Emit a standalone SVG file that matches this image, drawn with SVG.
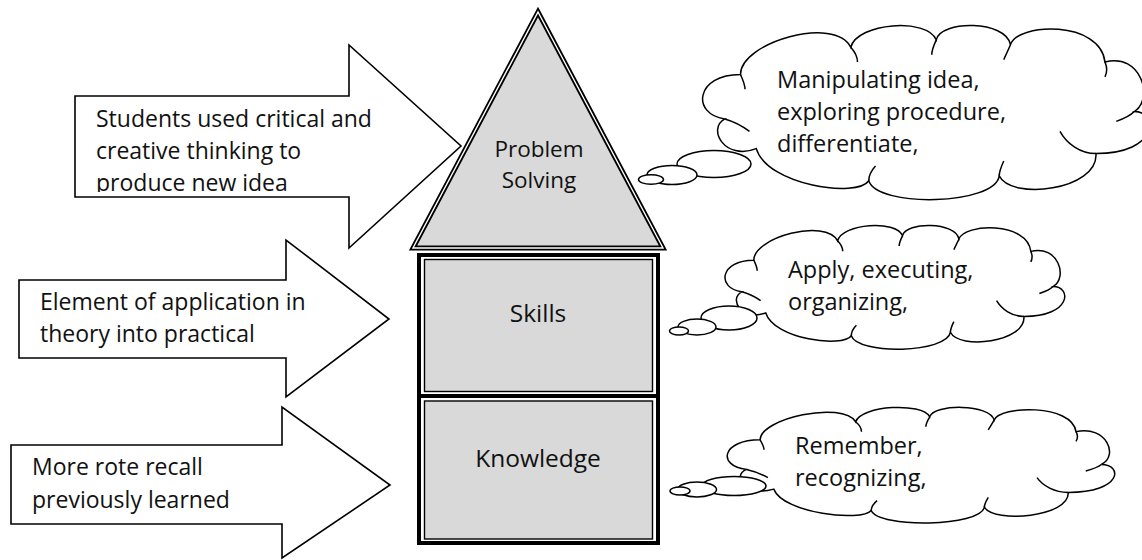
<svg xmlns="http://www.w3.org/2000/svg" xmlns:xlink="http://www.w3.org/1999/xlink" width="1142" height="560" viewBox="0 0 1142 560">
  <style>
    .arrow { fill: #ffffff; stroke: #000000; stroke-width: 1.6; stroke-linejoin: miter; }
    .txt { font-family: "Open Sans", "Liberation Sans", sans-serif; font-size: 23px; fill: #111111; }
    .ctxt { font-family: "Open Sans", "Liberation Sans", sans-serif; font-size: 23.5px; fill: #111111; }
    .big { font-family: "Open Sans", "Liberation Sans", sans-serif; font-size: 24.5px; fill: #111111; text-anchor: middle; }
    .mid { font-family: "Open Sans", "Liberation Sans", sans-serif; font-size: 22.5px; fill: #111111; text-anchor: middle; }
    .cloud { fill: #ffffff; stroke: #000000; stroke-width: 1.5; vector-effect: non-scaling-stroke; }
    .inner { fill: none; stroke: #000000; stroke-width: 1.5; vector-effect: non-scaling-stroke; }
    .bubble { fill: #ffffff; stroke: #000000; stroke-width: 1.5; }
    .outerBox { fill: #ffffff; stroke: #000000; stroke-width: 4; }
    .innerBox { fill: #d9d9d9; stroke: #000000; stroke-width: 1.4; }
  </style>
  <defs>
    <!-- thought cloud drawn in a 400 x 140 reference box -->
    <g id="cloud-shape">
      <path class="cloud" d="M36,40 C36,14 120,-8 134,18 C140,-2 202,-6 210,12 C214,-4 272,-4 276,16 C282,-2 356,-4 360,30 C392,22 404,60 386,70 C408,70 408,104 352,104 C354,134 276,142 266,122 C262,146 158,148 150,126 C140,140 60,130 50,100 C22,110 6,84 22,76 C-8,72 -4,40 36,40 Z"/>
      <path class="inner" d="M36,40 C38,44 40,48 40,52 M134,18 C138,22 140,26 140,30 M210,12 C208,16 206,20 206,24 M276,16 C274,20 272,24 270,28 M360,30 C362,34 362,38 360,42 M386,70 C382,74 376,76 370,78 M352,104 C338,104 326,96 320,86 M266,122 C266,118 268,114 270,110 M150,126 C150,122 152,118 156,114 M22,76 C30,78 38,82 44,86"/>
    </g>
    <!-- the last line of the top arrow's text is cut at the bottom of its text box -->
    <clipPath id="clip-arrow-top">
      <rect x="75" y="96" width="340" height="96"/>
    </clipPath>
  </defs>

  <!-- block arrows on the left -->
  <g id="arrow-problem-solving">
    <polygon class="arrow" points="75,96 349,96 349,45 461,146 349,248 349,197 75,197"/>
    <g clip-path="url(#clip-arrow-top)">
      <text class="txt" x="96" y="127">Students used critical and</text>
      <text class="txt" x="96" y="159">creative thinking to</text>
      <text class="txt" x="96" y="191">produce new idea</text>
    </g>
  </g>
  <g id="arrow-skills">
    <polygon class="arrow" points="19,280 286,280 286,240 389,319 286,397 286,358 19,358"/>
    <text class="txt" x="40" y="310">Element of application in</text>
    <text class="txt" x="40" y="342">theory into practical</text>
  </g>
  <g id="arrow-knowledge">
    <polygon class="arrow" points="11,445 282,445 282,407 390,485 282,558 282,524 11,524"/>
    <text class="txt" x="32" y="475">More rote recall</text>
    <text class="txt" x="32" y="508">previously learned</text>
  </g>

  <!-- pyramid -->
  <g id="problem-solving">
    <polygon points="538,12 663,248 413,248" fill="#d9d9d9" stroke="#000000" stroke-width="5" stroke-linejoin="miter"/>
    <polygon points="538,12 663,248 413,248" fill="none" stroke="#ffffff" stroke-width="1.4" stroke-linejoin="miter"/>
    <text class="mid" x="539" y="157">Problem</text>
    <text class="mid" x="539" y="188">Solving</text>
  </g>
  <g id="skills">
    <rect class="outerBox" x="419" y="255" width="239" height="141"/>
    <rect class="innerBox" x="424.5" y="259.5" width="228" height="132"/>
    <text class="big" x="538" y="322">Skills</text>
  </g>
  <g id="knowledge">
    <rect class="outerBox" x="419" y="396" width="239" height="147"/>
    <rect class="innerBox" x="424.5" y="401" width="228" height="138"/>
    <text class="big" x="538" y="467">Knowledge</text>
  </g>

  <!-- thought clouds on the right -->
  <g id="cloud-problem-solving">
    <use xlink:href="#cloud-shape" href="#cloud-shape" transform="translate(700,25) scale(1.125,1.236)"/>
    <ellipse class="bubble" cx="714" cy="164" rx="37" ry="13.5"/>
    <ellipse class="bubble" cx="672" cy="175" rx="25" ry="9.5"/>
    <ellipse class="bubble" cx="651" cy="179.5" rx="12.5" ry="4.8"/>
    <text class="ctxt" x="777" y="88">Manipulating idea,</text>
    <text class="ctxt" x="777" y="120">exploring procedure,</text>
    <text class="ctxt" x="777" y="152">differentiate,</text>
  </g>
  <g id="cloud-skills">
    <use xlink:href="#cloud-shape" href="#cloud-shape" transform="translate(723,225) scale(0.855,0.879)"/>
    <ellipse class="bubble" cx="729" cy="318" rx="28" ry="12"/>
    <ellipse class="bubble" cx="697" cy="327" rx="19" ry="8"/>
    <ellipse class="bubble" cx="679" cy="331" rx="9.5" ry="4"/>
    <text class="ctxt" x="788" y="278">Apply, executing,</text>
    <text class="ctxt" x="788" y="310">organizing,</text>
  </g>
  <g id="cloud-knowledge">
    <use xlink:href="#cloud-shape" href="#cloud-shape" transform="translate(725,407) scale(0.975,0.821)"/>
    <ellipse class="bubble" cx="734" cy="486" rx="32" ry="9.5"/>
    <ellipse class="bubble" cx="697" cy="489.5" rx="19.5" ry="7.5"/>
    <ellipse class="bubble" cx="680" cy="491" rx="10" ry="4"/>
    <text class="ctxt" x="795" y="454">Remember,</text>
    <text class="ctxt" x="795" y="486">recognizing,</text>
  </g>
</svg>
